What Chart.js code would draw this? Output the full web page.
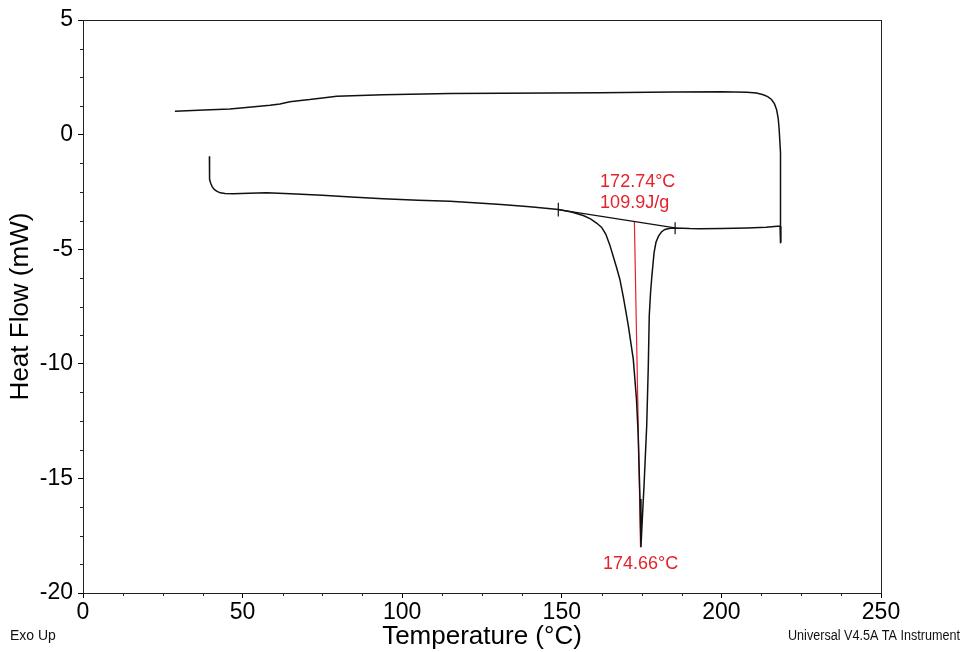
<!DOCTYPE html>
<html><head><meta charset="utf-8">
<script src="https://cdn.jsdelivr.net/npm/chart.js@4/dist/chart.umd.min.js"></script>
<style>html,body{margin:0;padding:0;background:#fff}#wrap{width:960px;height:652px}</style>
</head><body><div id="wrap"><canvas id="c" width="960" height="652"></canvas></div>
<script>
// ---- data ----
const heatingT  = [39.6,39.6,39.7,40.0,40.5,41.2,42.0,43.0,44.5,47,52,57.5,65,75,84,94,105,115,125,131,140,149,153,156.7,159,161,162.5,163.8,165,166.1,167.2,168.2,169.3,170.8,172.4,173.4,173.9,174.5,174.8,175.0,175.8,176.6,177.1,177.4,177.8,178.2,178.9,179.5,180.3,181.2,182.3,184,185.5,190,193.3,200,208,214,217.5,218.4,218.6];
const heatingHF = [-0.95,-1.6,-1.95,-2.12,-2.28,-2.40,-2.48,-2.54,-2.57,-2.58,-2.56,-2.54,-2.58,-2.65,-2.72,-2.80,-2.86,-2.91,-2.99,-3.05,-3.15,-3.27,-3.38,-3.53,-3.68,-3.87,-4.05,-4.35,-4.8,-5.31,-5.82,-6.32,-7.1,-8.3,-9.81,-11.56,-13.0,-15.9,-18.0,-17.4,-15.2,-12.7,-10.1,-7.9,-6.9,-6.2,-5.16,-4.7,-4.43,-4.25,-4.14,-4.09,-4.07,-4.10,-4.11,-4.10,-4.07,-4.04,-4.0,-4.0,-4.72];
const coolingT  = [218.6,218.6,218.55,218.4,218.1,217.8,217.3,216.6,215.7,214.5,213.1,211,208,200,185,162,131,115,94,79.5,75,71,67.5,64.8,61.7,58.6,52,46,38,28.8];
const coolingHF = [-4.72,-3.0,-1.96,-0.8,0.22,0.7,1.09,1.35,1.53,1.66,1.74,1.81,1.85,1.87,1.86,1.83,1.80,1.79,1.74,1.67,1.60,1.53,1.48,1.43,1.34,1.28,1.19,1.12,1.07,1.02];
const baselineT  = [148.9, 185.5];
const baselineHF = [-3.27, -4.07];
const limit1T  = [148.9, 148.9];
const limit1HF = [-2.97, -3.57];
const limit2T  = [185.5, 185.5];
const limit2HF = [-3.82, -4.35];
const peakLineT  = [172.74, 174.66];
const peakLineHF = [-3.79, -18.0];
const redLabels   = ['172.74°C', '109.9J/g', '174.66°C'];
const redLabelT   = [162, 162, 174.66];
const redLabelHF  = [-2.08, -2.99, -18.75];
const xMajorTicks = [0, 50, 100, 150, 200, 250];
const yMajorTicks = [-20, -15, -10, -5, 0, 5];
const xMinorStep = 12.5;
const yMinorStep = 1.25;

const zip = (xs, ys) => xs.map((x, i) => ({x, y: ys[i]}));
const RED = '#e5222c';
const FONT = "'Liberation Sans', Arial, Helvetica, sans-serif";

const decor = {
  id: 'decor',
  afterDraw(chart) {
    const {ctx, chartArea: a, scales: {x, y}} = chart;
    ctx.save();
    // frame
    ctx.strokeStyle = '#222';
    ctx.lineWidth = 1;
    ctx.strokeRect(Math.round(a.left) + 0.5, Math.round(a.top) + 0.5,
                   Math.round(a.right - a.left), Math.round(a.bottom - a.top));
    // minor ticks
    ctx.beginPath();
    for (let v = x.min; v <= x.max + 1e-9; v += xMinorStep) {
      if (xMajorTicks.includes(v)) continue;
      const px = Math.round(x.getPixelForValue(v)) + 0.5;
      ctx.moveTo(px, a.bottom); ctx.lineTo(px, a.bottom + 3);
    }
    for (let v = y.min; v <= y.max + 1e-9; v += yMinorStep) {
      if (yMajorTicks.includes(v)) continue;
      const py = Math.round(y.getPixelForValue(v)) + 0.5;
      ctx.moveTo(a.left, py); ctx.lineTo(a.left - 3, py);
    }
    ctx.stroke();
    // red annotation text
    ctx.fillStyle = RED;
    ctx.font = '18px ' + FONT;
    ctx.textBaseline = 'middle';
    redLabels.forEach((t, i) => {
      ctx.textAlign = i < 2 ? 'left' : 'center';
      ctx.fillText(t, x.getPixelForValue(redLabelT[i]), y.getPixelForValue(redLabelHF[i]));
    });
    // footer notes
    ctx.fillStyle = '#111';
    ctx.font = '14px ' + FONT;
    ctx.textAlign = 'left';
    ctx.fillText('Exo Up', 10, 636);
    ctx.save();
    ctx.translate(788, 636);
    ctx.scale(0.9, 1);
    ctx.fillText('Universal V4.5A TA Instruments', 0, 0);
    ctx.restore();
    ctx.restore();
  }
};

const lineDs = (data, color, width) => ({
  data, showLine: true, borderColor: color, borderWidth: width,
  pointRadius: 0, tension: 0, fill: false
});

new Chart(document.getElementById('c'), {
  type: 'scatter',
  data: {
    datasets: [
      lineDs(zip(heatingT, heatingHF), '#111', 1.5),
      lineDs(zip(coolingT, coolingHF), '#111', 1.5),
      lineDs(zip(baselineT, baselineHF), '#111', 1.2),
      lineDs(zip(limit1T, limit1HF), '#111', 1.2),
      lineDs(zip(limit2T, limit2HF), '#111', 1.2),
      lineDs(zip(peakLineT, peakLineHF), RED, 1.2)
    ]
  },
  options: {
    responsive: false,
    animation: false,
    devicePixelRatio: 1,
    layout: {padding: {top: 20, right: 79, left: 0, bottom: 0}},
    plugins: {legend: {display: false}, tooltip: {enabled: false}},
    scales: {
      x: {
        type: 'linear', min: 0, max: 250,
        afterFit: s => { s.height = 59; },
        afterBuildTicks: s => { s.ticks = xMajorTicks.map(v => ({value: v})); },
        ticks: {color: '#000', font: {size: 23, family: FONT}, padding: 1, maxRotation: 0, autoSkip: false},
        grid: {drawOnChartArea: false, drawTicks: true, tickLength: 5, tickColor: '#000'},
        border: {display: false},
        title: {display: true, text: 'Temperature (°C)', color: '#000',
                font: {size: 26, family: FONT}, padding: {top: 0, bottom: 0}}
      },
      y: {
        type: 'linear', min: -20, max: 5,
        afterFit: s => { s.width = 83; },
        afterBuildTicks: s => { s.ticks = yMajorTicks.map(v => ({value: v})); },
        ticks: {color: '#000', font: {size: 23, family: FONT}, padding: 5, autoSkip: false},
        grid: {drawOnChartArea: false, drawTicks: true, tickLength: 5, tickColor: '#000'},
        border: {display: false},
        title: {display: true, text: 'Heat Flow (mW)', color: '#000',
                font: {size: 26, family: FONT}, padding: {top: 5, bottom: 0}}
      }
    }
  },
  plugins: [decor]
});
</script></body></html>
